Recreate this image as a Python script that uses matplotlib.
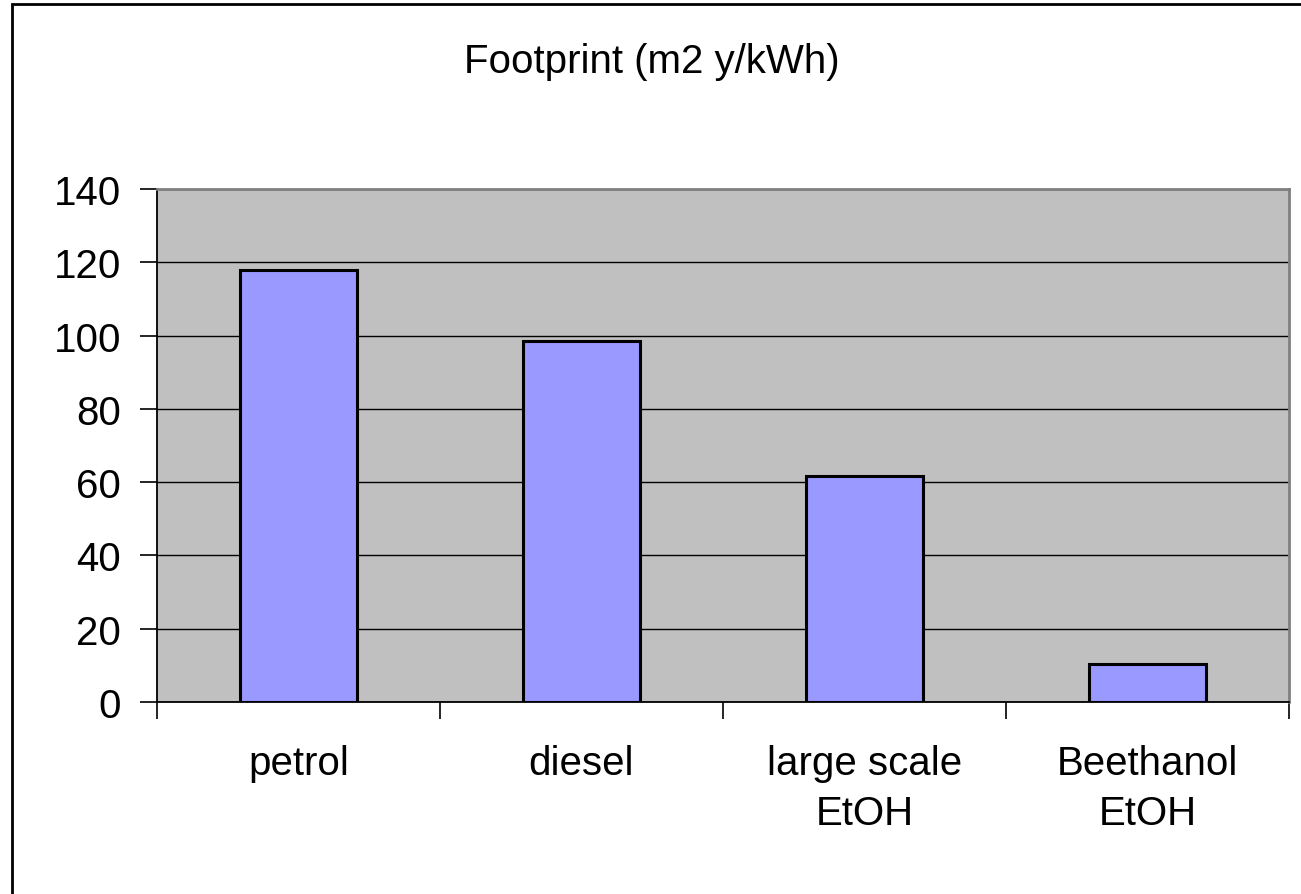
import matplotlib
matplotlib.use("Agg")
import matplotlib.pyplot as plt
from matplotlib.patches import Rectangle

categories = ["petrol", "diesel", "large scale\nEtOH", "Beethanol\nEtOH"]
values = [118, 98.5, 61.7, 10.3]
yticks = [0, 20, 40, 60, 80, 100, 120, 140]
title = "Footprint (m2 y/kWh)"

plt.rcParams['font.family'] = ['Liberation Sans', 'DejaVu Sans']

fig = plt.figure(figsize=(13.01, 8.95), dpi=100)
fig.patch.set_facecolor('white')
ax = fig.add_axes([157/1301, 1-703/895, (1289-157)/1301, (703-190)/895])
ax.set_facecolor('#C0C0C0')

x = list(range(len(categories)))
ax.bar(x, values, width=0.415, color='#9999FF', edgecolor='black', linewidth=2.2, zorder=3)

ax.set_xlim(-0.5, len(categories) - 0.5)
ax.set_ylim(0, 140)
ax.set_yticks(yticks)
ax.set_yticklabels([str(t) for t in yticks], fontsize=29)
ax.yaxis.grid(True, color='black', linewidth=1.0, zorder=1)
ax.set_axisbelow(True)

ax.set_xticks([i - 0.5 for i in range(len(categories) + 1)])
ax.set_xticklabels([])
ax.set_xticks(x, minor=True)
ax.set_xticklabels(categories, minor=True, fontsize=29, linespacing=1.4)
ax.tick_params(axis='x', which='minor', length=0, pad=30)
ax.tick_params(axis='x', which='major', length=12, width=1.2, direction='out', color='black')
ax.tick_params(axis='y', length=12, width=1.2, direction='out', pad=14, color='black')

for side in ['top', 'right']:
    ax.spines[side].set_color('#808080')
    ax.spines[side].set_linewidth(2.0)
for side in ['left', 'bottom']:
    ax.spines[side].set_color('black')
    ax.spines[side].set_linewidth(1.3)

fig.text(652/1301, 1-62/895, title, ha='center', va='center', fontsize=29)

border = Rectangle((12/1301, -0.05), 1.1, 1 - 5/895 + 0.05, transform=fig.transFigure,
                   fill=False, edgecolor='black', linewidth=2.0, clip_on=False)
fig.patches.append(border)

fig.savefig('out.png', dpi=100, facecolor='white')
